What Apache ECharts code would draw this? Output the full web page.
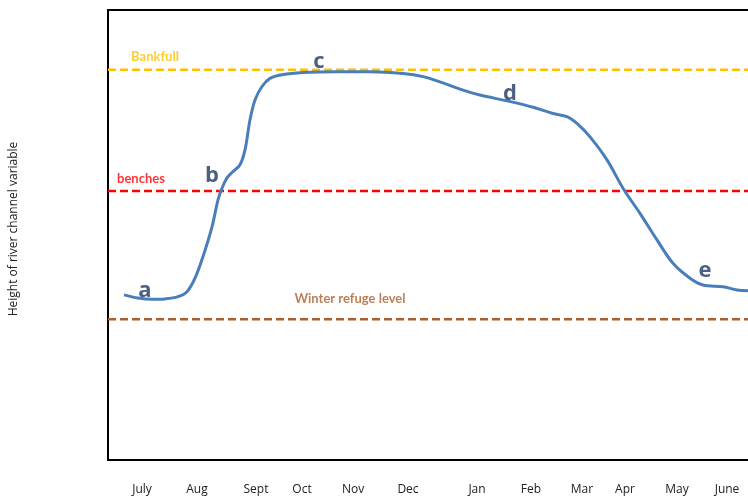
<!DOCTYPE html>
<html>
<head>
<meta charset="utf-8">
<script src="https://cdn.jsdelivr.net/npm/echarts@6/dist/echarts.min.js"></script>
<style>html,body{margin:0;padding:0;background:#fff}#c{width:748px;height:498px}</style>
</head>
<body>
<div id="c"></div>
<script>
// Month tick labels and their positions along the x scale
const monthNames = ['July','Aug','Sept','Oct','Nov','Dec','Jan','Feb','Mar','Apr','May','June'];
const monthPos   = [34, 89, 148, 194, 245, 300, 369, 423, 474, 517, 569, 619];

// Hydrograph curve (x position, height)
const curveX = [16,30,44,57,70,79,87,95,104,110,114,119,125,132,137,142,147,154,162,174,195,229,262,295,315,335,355,372,399,425,445,459,469,482,499,515,532,549,565,582,595,615,629,640];
const curveY = [36.7,36.0,35.7,35.8,36.3,37.4,40.4,45.2,51.8,57.8,60.4,62.7,64.1,65.6,68.9,75.6,80.0,83.0,84.8,85.6,86.1,86.3,86.3,85.9,85.2,83.8,82.2,81.1,79.8,78.4,77.0,76.3,74.8,71.8,66.7,60.4,54.8,48.9,43.7,40.4,38.9,38.5,37.8,37.6];

// Reference levels
const levelNames  = ['Bankfull','benches','Winter refuge level'];
const levelValues = [86.7, 59.8, 31.3];
const levelLabelX = [47, 33, 242];
const levelLabelY = [89.6, 62.4, 35.8];
const levelColors = ['#FFC000','#FF0000','#AD5F2D'];

// Stage letters
const letters  = ['a','b','c','d','e'];
const letterX  = [37, 104, 211, 402, 597];
const letterY  = [37.6, 63.1, 88.4, 81.3, 42.1];

const chart = echarts.init(document.getElementById('c'), null, {renderer:'canvas'});
const FONT = 'Lato, "Open Sans", sans-serif';

const series = [];
series.push({
  type:'line', data: curveX.map((x,i)=>[x,curveY[i]]),
  smooth:0.35, symbol:'none',
  lineStyle:{color:'#4A7EBB', width:3},
  z:5, silent:true
});
levelNames.forEach((n,i)=>{
  series.push({
    type:'line', data:[[0,levelValues[i]],[640,levelValues[i]]],
    symbol:'none', silent:true,
    lineStyle:{color:levelColors[i], width:2.5, type:[8,4]}, z:3
  });
  series.push({
    type:'scatter', data:[[levelLabelX[i], levelLabelY[i]]], symbolSize:0, silent:true,
    label:{show:true, position:'inside', formatter:n, color:levelColors[i],
      fontFamily:FONT, fontWeight:'bold', fontSize:13}
  });
});
series.push({
  type:'scatter', data: letters.map((l,i)=>[letterX[i], letterY[i], l]), symbolSize:0, silent:true,
  label:{show:true, position:'inside', formatter:p=>p.data[2], color:'#1F3864',
    fontFamily:'"Open Sans", sans-serif', fontWeight:'bold', fontSize:22}, z:6
});

chart.setOption({
  animation:false,
  grid:{left:108, right:0, top:10, bottom:38},
  xAxis:[{
    type:'value', min:0, max:640,
    axisLine:{show:true, lineStyle:{color:'#000', width:2}},
    axisTick:{show:false}, splitLine:{show:false},
    axisLabel:{show:true, customValues:monthPos, margin:24, color:'#222', fontSize:12,
      fontFamily:'"Open Sans", sans-serif',
      formatter:v=>{const i=monthPos.indexOf(v); return i>=0?monthNames[i]:'';}}
  },{
    type:'value', min:0, max:640, position:'top',
    axisLine:{show:true, lineStyle:{color:'#000', width:2}},
    axisTick:{show:false}, axisLabel:{show:false}, splitLine:{show:false}
  }],
  yAxis:{
    type:'value', min:0, max:100,
    name:'Height of river channel variable', nameLocation:'middle', nameGap:88, nameRotate:90,
    nameTextStyle:{color:'#222', fontSize:12, fontFamily:'"Open Sans", sans-serif', padding:[0,0,0,12]},
    axisLine:{show:true, lineStyle:{color:'#000', width:2}},
    axisTick:{show:false}, axisLabel:{show:false}, splitLine:{show:false}
  },
  series:series
});
</script>
</body>
</html>
